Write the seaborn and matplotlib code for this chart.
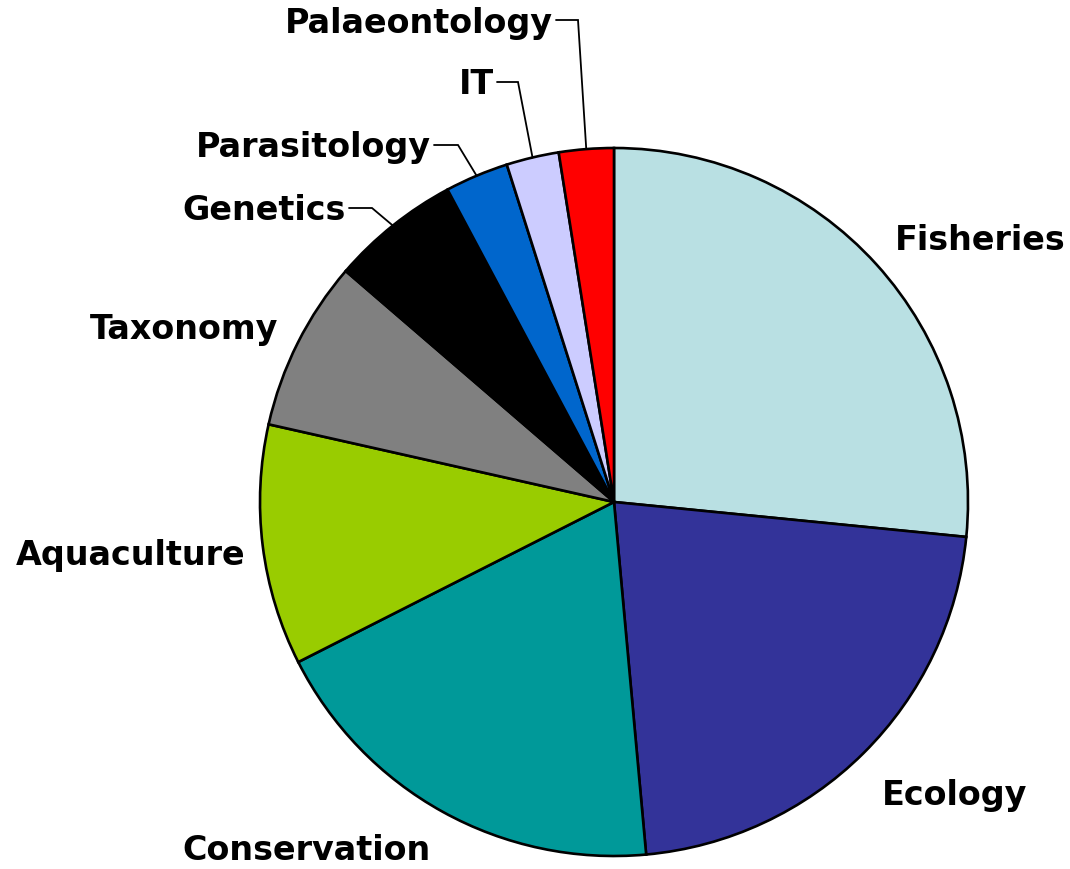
import numpy as np
import matplotlib
matplotlib.use("Agg")
import matplotlib.pyplot as plt
import seaborn as sns

# Share of research areas (percent)
categories = ["Fisheries", "Ecology", "Conservation", "Aquaculture", "Taxonomy",
              "Genetics", "Parasitology", "IT", "Palaeontology"]
shares = [26.6, 22.0, 19.0, 11.0, 7.8, 5.9, 2.9, 2.4, 2.5]
colors = ["#B9E0E3", "#333399", "#009999", "#99CC00", "#808080",
          "#000000", "#0066CC", "#CCCCFF", "#FF0000"]

sns.set_theme(style="white")
plt.rcParams["font.family"] = ["DejaVu Sans"]

W, H = 1070, 869
fig = plt.figure(figsize=(W / 100, H / 100), dpi=100)
ax = fig.add_axes([0, 0, 1, 1])

cx, cy, r = 614, H - 502, 354
wedges, _ = ax.pie(shares, colors=colors, startangle=90, counterclock=False,
                   center=(cx, cy), radius=r, frame=True,
                   wedgeprops=dict(edgecolor="black", linewidth=1.9))
ax.set_xlim(0, W)
ax.set_ylim(0, H)
ax.set_aspect("equal")
ax.axis("off")

font = dict(fontsize=24, fontweight="bold", color="black")

# Labels placed around the pie without leaders
plain = {
    "Fisheries": (980, 240),
    "Ecology": (955, 795),
    "Conservation": (306, 851),
    "Aquaculture": (131, 556),
    "Taxonomy": (184, 329),
}
for name, (x, y) in plain.items():
    ax.text(x, H - y, name, ha="center", va="center", **font)

# Labels with elbow leaders: text right edge, elbow x, leader height
leader = {
    "Genetics": (346, 372, 208),
    "Parasitology": (431, 458, 145),
    "IT": (494, 518, 82),
    "Palaeontology": (553, 578, 20),
}
for name, (xr, xe, yl) in leader.items():
    w = wedges[categories.index(name)]
    mid = np.deg2rad((w.theta1 + w.theta2) / 2)
    px, py = cx + r * np.cos(mid), cy + r * np.sin(mid)
    ax.text(xr, H - yl - 3, name, ha="right", va="center", **font)
    ax.plot([xr + 3, xe, px], [H - yl, H - yl, py], color="black", lw=1.3,
            solid_joinstyle="miter")

fig.savefig("out.png", dpi=100, facecolor="white")
